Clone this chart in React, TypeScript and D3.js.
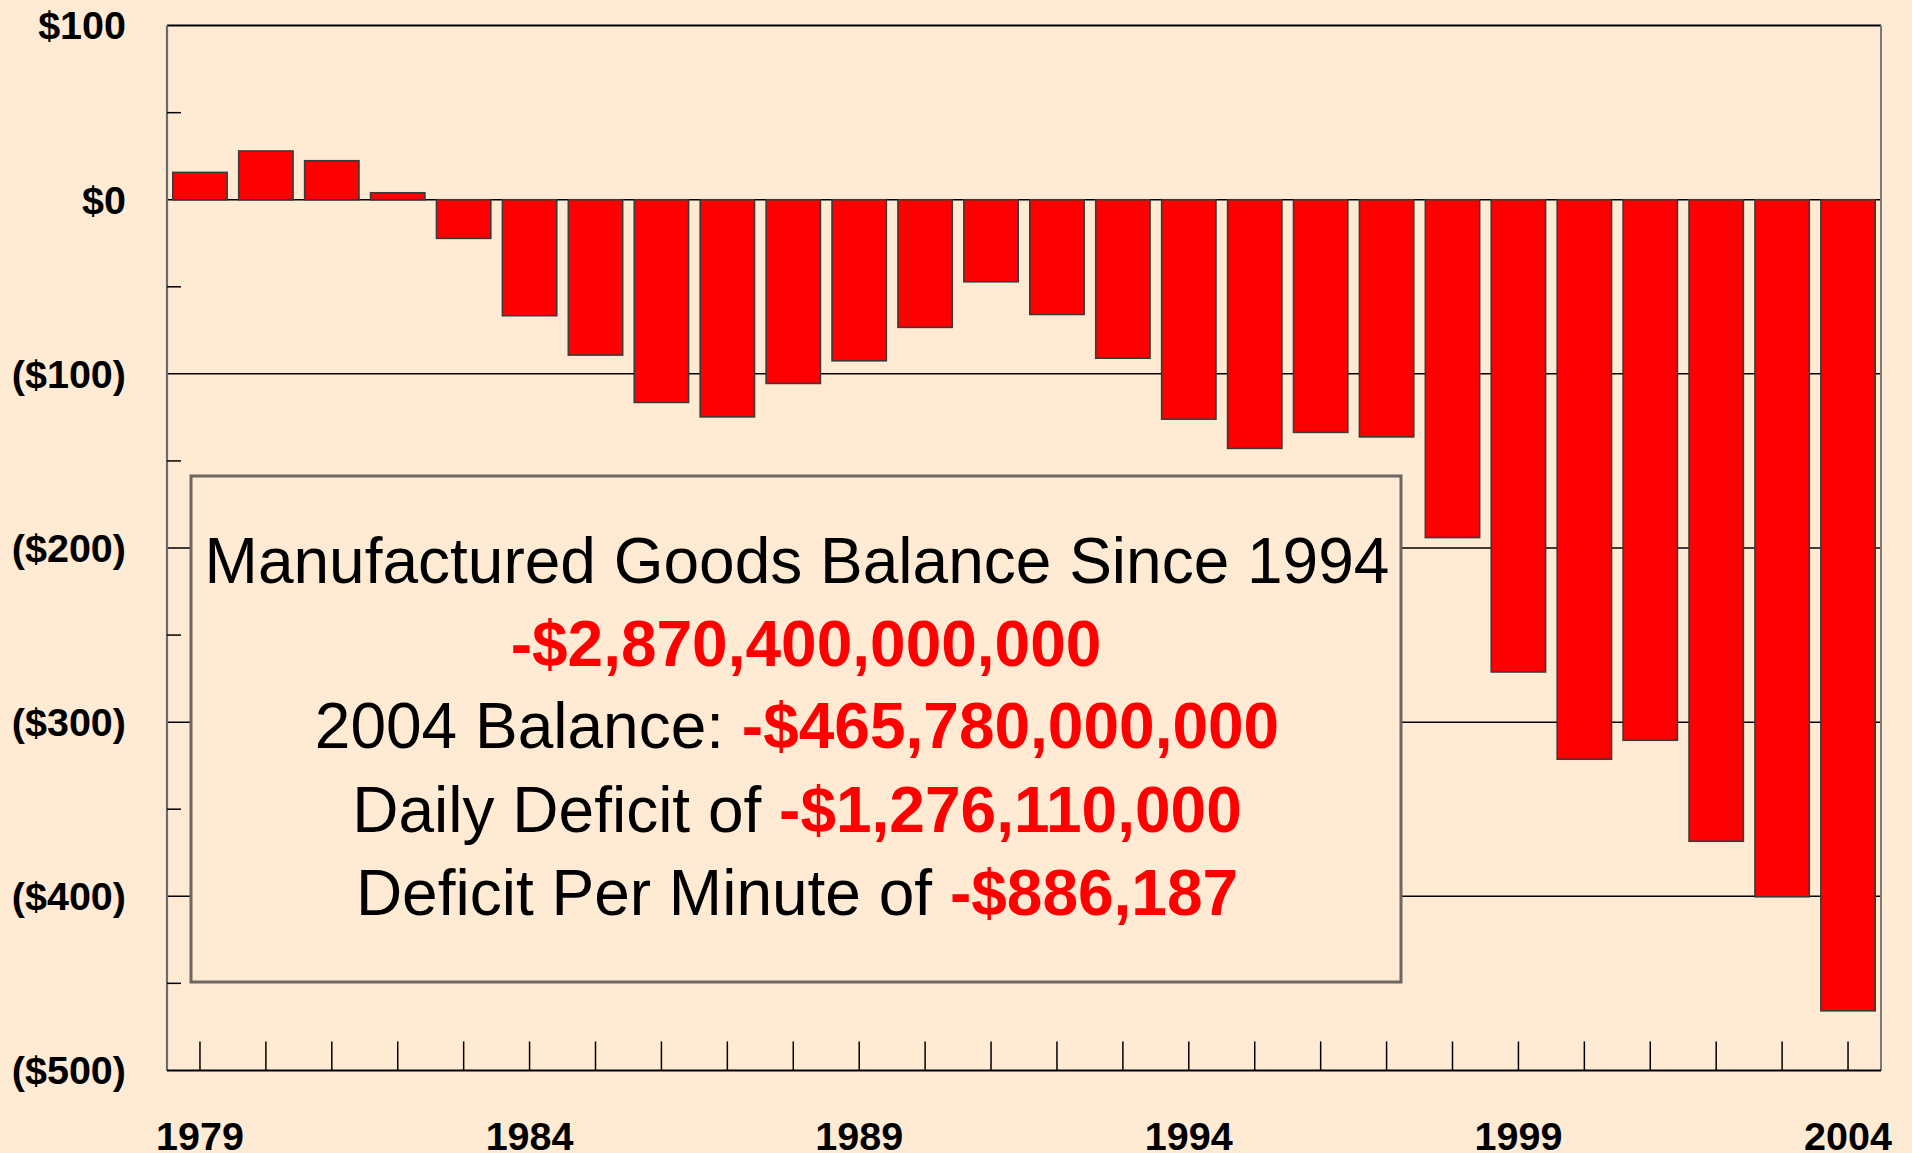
import React from "react";
import * as d3 from "d3";

const years: string[] = [
  "1979","1980","1981","1982","1983","1984","1985","1986","1987","1988","1989","1990","1991",
  "1992","1993","1994","1995","1996","1997","1998","1999","2000","2001","2002","2003","2004",
];
const balance: number[] = [
  15.7, 28.0, 22.4, 4.0, -22.2, -66.6, -89.2, -116.4, -124.7, -105.5, -92.5, -73.3, -47.1,
  -65.9, -91.0, -126.0, -142.8, -133.6, -136.2, -194.0, -271.2, -321.3, -310.4, -368.4, -400.3, -465.78,
];
const yMajorTicks: number[] = [100, 0, -100, -200, -300, -400, -500];
const yMinorTicks: number[] = [50, -50, -150, -250, -350, -450];
const xLabelYears: string[] = ["1979", "1984", "1989", "1994", "1999", "2004"];
const gridValues: number[] = [-100, -200, -300, -400];

const boxLines: { plain: string; red: string }[] = [
  { plain: "Manufactured Goods Balance Since 1994", red: "" },
  { plain: "", red: "-$2,870,400,000,000" },
  { plain: "2004 Balance: ", red: "-$465,780,000,000" },
  { plain: "Daily Deficit of ", red: "-$1,276,110,000" },
  { plain: "Deficit Per Minute of ", red: "-$886,187" },
];

const W = 1912;
const H = 1153;
const BG = "#FFEBD3";
const FONT = "'Liberation Sans', Arial, Helvetica, sans-serif";

export default function App() {
  const left = 167;
  const right = 1881;
  const top = 25.6;
  const bottom = 1070.4;

  const x = d3.scaleBand<string>().domain(years).range([left, right]).paddingInner(0.176).paddingOuter(0.088);
  const y = d3.scaleLinear().domain([-500, 100]).range([bottom, top]);

  const fmt = (v: number) => (v >= 0 ? `$${v}` : `($${-v})`);

  const box = { x0: 191, y0: 476, x1: 1401, y1: 982 };
  const boxCx = (box.x0 + box.x1) / 2 + 1;
  const baselines = [583, 666, 748, 832, 915];
  const lineShift = [0, 9, 0, 0, 0];

  return (
    <svg
      width={W}
      height={H}
      style={{ position: "absolute", left: 0, top: 0, display: "block" }}
      xmlns="http://www.w3.org/2000/svg"
    >
      <rect x={0} y={0} width={W} height={H} fill={BG} />

      {gridValues.map((v) => (
        <line key={"g" + v} x1={left} x2={right} y1={y(v)} y2={y(v)} stroke="#000" strokeWidth={1.5} />
      ))}
      <line x1={left} x2={right} y1={y(0)} y2={y(0)} stroke="#000" strokeWidth={1.5} />

      {years.map((yr, i) => {
        const v = balance[i];
        const y0 = y(Math.max(0, v));
        const y1 = y(Math.min(0, v));
        return (
          <rect
            key={yr}
            x={x(yr)}
            y={y0}
            width={x.bandwidth()}
            height={y1 - y0}
            fill="#FF0000"
            stroke="#3a3a3a"
            strokeWidth={1.6}
          />
        );
      })}

      <rect
        x={box.x0}
        y={box.y0}
        width={box.x1 - box.x0}
        height={box.y1 - box.y0}
        fill={BG}
        stroke="#6e6660"
        strokeWidth={3}
      />
      {boxLines.map((ln, i) => (
        <text
          key={"t" + i}
          x={boxCx + lineShift[i]}
          y={baselines[i]}
          textAnchor="middle"
          fontFamily={FONT}
          fontSize={64}
          fill="#000"
        >
          {ln.plain && <tspan>{ln.plain}</tspan>}
          {ln.red && (
            <tspan fill="#FF0000" fontWeight="bold">
              {ln.red}
            </tspan>
          )}
        </text>
      ))}

      <line x1={left} x2={right} y1={top} y2={top} stroke="#000" strokeWidth={2} />
      <line x1={right} x2={right} y1={top} y2={bottom} stroke="#7a7a7a" strokeWidth={2} />
      <line x1={left} x2={left} y1={top} y2={bottom} stroke="#6a6a6a" strokeWidth={2.2} />
      <line x1={left} x2={right} y1={bottom} y2={bottom} stroke="#000" strokeWidth={2} />

      {yMinorTicks.map((v) => (
        <line key={"m" + v} x1={left} x2={left + 14} y1={y(v)} y2={y(v)} stroke="#000" strokeWidth={1.5} />
      ))}

      {yMajorTicks.map((v) => (
        <text
          key={"yl" + v}
          x={126}
          y={y(v)}
          dy="0.35em"
          textAnchor="end"
          fontFamily={FONT}
          fontWeight="bold"
          fontSize={39.5}
          fill="#000"
        >
          {fmt(v)}
        </text>
      ))}

      {years.map((yr) => {
        const cx = (x(yr) as number) + x.bandwidth() / 2;
        return <line key={"xt" + yr} x1={cx} x2={cx} y1={bottom - 29} y2={bottom} stroke="#000" strokeWidth={1.5} />;
      })}

      {xLabelYears.map((yr) => {
        const cx = (x(yr) as number) + x.bandwidth() / 2;
        return (
          <text
            key={"xl" + yr}
            x={cx}
            y={1150}
            textAnchor="middle"
            fontFamily={FONT}
            fontWeight="bold"
            fontSize={39.5}
            fill="#000"
          >
            {yr}
          </text>
        );
      })}
    </svg>
  );
}
